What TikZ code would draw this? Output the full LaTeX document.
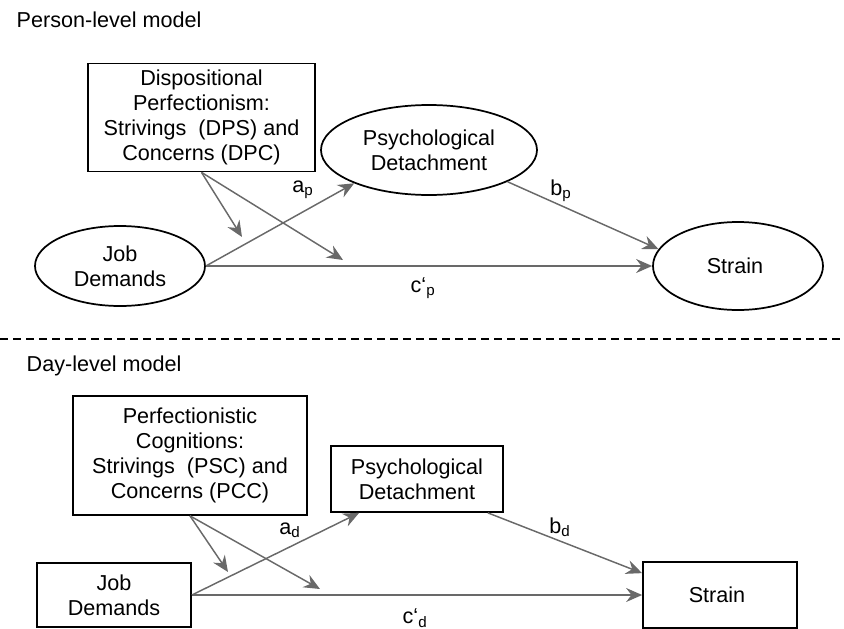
\documentclass[tikz,border=0pt]{standalone}
\usepackage{fontspec}
\setmainfont{Liberation Sans}
\usepackage{xcolor}
\usetikzlibrary{shapes, arrows.meta, positioning}

\definecolor{pathgray}{RGB}{105,105,105}

\begin{document}
\begin{tikzpicture}[x = 0.75pt, y = -0.75pt,
        font = \fontsize{16.2}{18.75}\selectfont,
        latent/.style = {draw, ellipse, line width = 1.3pt, inner sep = 0pt, align = center},
        observed/.style = {draw, rectangle, line width = 1.3pt, inner sep = 0pt, align = center},
        effect/.style = {draw = pathgray, line width = 1.1pt, -{Stealth[length = 12pt, width = 10.5pt, inset = 4pt]}},
        coef/.style = {inner sep = 0pt}]

                \useasboundingbox (0, 0) rectangle (844, 629);

                \node [anchor = west] (T1) at (12, 20) { Person-level model };

                \node [observed, minimum width = 170.25pt, minimum height = 81pt] (DP) at (201.5, 117.5)
                        { Dispositional\\ Perfectionism:\\ Strivings\ \ (DPS) and\\ Concerns (DPC) };
                \node [latent, minimum width = 162pt, minimum height = 67.5pt] (PD) at (429, 150) { Psychological\\ Detachment };
                \node [latent, minimum width = 127.5pt, minimum height = 60pt] (JD) at (120, 266) { Job\\ Demands };
                \node [latent, minimum width = 127.5pt, minimum height = 66pt] (S) at (738, 266) { Strain };

                \coordinate (M1) at (242, 237);
                \coordinate (M2) at (343, 260);

                \draw [effect] (DP.south) to (M1);
                \draw [effect] (DP.south) to (M2);
                \draw [effect] (JD.east) to (PD.204);
                \draw [effect] (JD.east) to (S.west);
                \draw [effect] (PD.338) to (S.168);

                \node [coef] (ap) at (303, 190) { a\textsubscript{p} };
                \node [coef] (bp) at (561, 191) { b\textsubscript{p} };
                \node [coef] (cp) at (423, 288) { c‘\textsubscript{p} };

                \coordinate (L) at (0, 339);
                \coordinate (R) at (844, 339);
                \draw [dash pattern = on 6pt off 3.75pt, line width = 1pt] (L) to (R);

                \node [anchor = west] (T2) at (22, 366) { Day-level model };

                \node [observed, minimum width = 175.5pt, minimum height = 89.25pt] (PC) at (190, 455.5)
                        { Perfectionistic\\ Cognitions:\\ Strivings\ \ (PSC) and\\ Concerns (PCC) };
                \node [observed, minimum width = 129pt, minimum height = 49.5pt] (PDd) at (417, 479) { Psychological\\ Detachment };
                \node [observed, minimum width = 115.5pt, minimum height = 48pt] (JDd) at (114, 595) { Job\\ Demands };
                \node [observed, minimum width = 115.5pt, minimum height = 49.5pt] (Sd) at (720, 595) { Strain };

                \coordinate (M3) at (228, 572);
                \coordinate (M4) at (320, 589);

                \draw [effect] (PC.south) to (M3);
                \draw [effect] (PC.south) to (M4);
                \draw [effect] (JDd.east) to ([xshift = 21.75pt] PDd.south west);
                \draw [effect] (JDd.east) to (Sd.west);
                \draw [effect] ([xshift = -12pt] PDd.south east) to ([yshift = -9pt] Sd.north west);

                \node [coef] (ad) at (290, 530) { a\textsubscript{d} };
                \node [coef] (bd) at (560, 527) { b\textsubscript{d} };
                \node [coef] (cd) at (415, 618) { c‘\textsubscript{d} };
            \end{tikzpicture}
\end{document}
